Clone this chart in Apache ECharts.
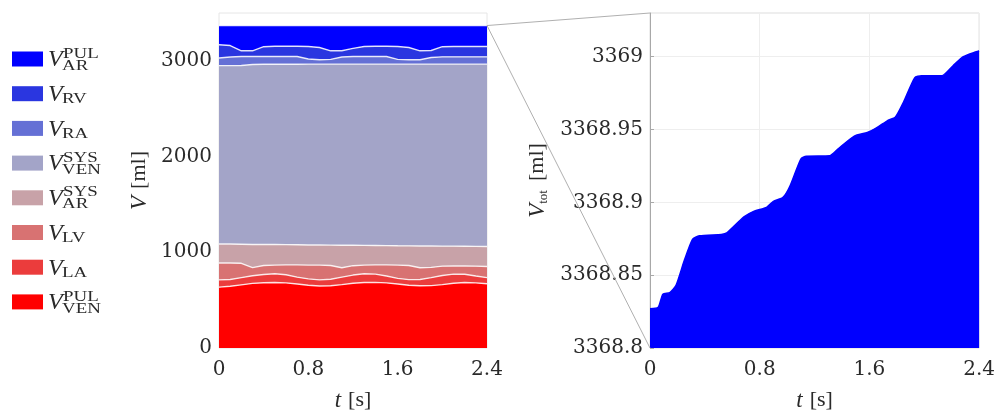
<!DOCTYPE html>
<html>
<head>
<meta charset="utf-8">
<title>Compartment volumes</title>
<script src="https://cdn.jsdelivr.net/npm/echarts@6/dist/echarts.min.js"></script>
<style>
  html, body { margin: 0; padding: 0; background: #ffffff; }
  #chart { width: 998px; height: 417px; }
</style>
</head>
<body>
<div id="chart"></div>
<script>
// ---- time base of the stacked compartment volumes [s] ----
const timeS = [0, 0.1, 0.2, 0.3, 0.4, 0.5, 0.6, 0.7, 0.8, 0.9, 1.0, 1.1, 1.2,
               1.3, 1.4, 1.5, 1.6, 1.7, 1.8, 1.9, 2.0, 2.1, 2.2, 2.3, 2.4];

// ---- compartment volumes [ml], bottom of the stack first ----
const vVenPul = [636, 645, 660, 675, 682, 684, 680, 668, 655, 648, 650, 662, 676,
                 685, 686, 680, 668, 656, 650, 652, 662, 676, 684, 680, 672];
const vLA     = [76, 70, 75, 80, 86, 91, 85, 72, 67, 64, 68, 78, 86,
                 91, 86, 72, 60, 58, 66, 83, 96, 96, 86, 72, 63];
const vLV     = [176, 173, 150, 85, 94, 91, 103, 128, 144, 154, 144, 98, 98,
                 90, 96, 116, 138, 148, 122, 107, 97, 84, 86, 103, 117];
const vArSys  = [198, 198, 199, 242, 221, 216, 212, 210, 210, 210, 213, 236, 214,
                 206, 203, 202, 202, 205, 228, 223, 209, 208, 207, 207, 208];
const vVenSys = [1864, 1864, 1868, 1880, 1882, 1883, 1885, 1887, 1890, 1890, 1891, 1892, 1892,
                 1894, 1895, 1896, 1898, 1899, 1900, 1901, 1902, 1902, 1903, 1904, 1906];
const vRA     = [80, 90, 93, 83, 80, 80, 80, 80, 54, 46, 49, 74, 79,
                 79, 79, 79, 49, 46, 46, 69, 76, 76, 76, 76, 76];
const vRV     = [138, 120, 60, 60, 103, 107, 107, 107, 130, 128, 90, 65, 85,
                 105, 107, 107, 135, 128, 93, 73, 106, 108, 108, 108, 108];
const vArPul  = [201, 209, 264, 264, 221, 217, 217, 217, 219, 229, 264, 264, 239,
                 219, 217, 217, 219, 229, 264, 261, 221, 219, 219, 219, 219];

// ---- total circulating volume [s, ml] ----
const totalTime   = [0, 0.06, 0.094, 0.144, 0.19, 0.25, 0.31, 0.36, 0.52, 0.56, 0.685,
                     0.76, 0.85, 0.90, 0.97, 1.02, 1.10, 1.14, 1.31, 1.37, 1.49, 1.585,
                     1.66, 1.73, 1.79, 1.85, 1.93, 1.98, 2.13, 2.21, 2.285, 2.38, 2.4];
const totalVolume = [3368.827, 3368.828, 3368.837, 3368.838, 3368.843, 3368.860, 3368.8745,
                     3368.877, 3368.878, 3368.879, 3368.890, 3368.894, 3368.8966, 3368.9007,
                     3368.9034, 3368.911, 3368.9297, 3368.9317, 3368.932, 3368.9366, 3368.9455,
                     3368.948, 3368.9517, 3368.956, 3368.9586, 3368.969, 3368.9855, 3368.987,
                     3368.987, 3368.9938, 3369.000, 3369.0034, 3369.004];

// ---- axis ticks ----
const timeTicks      = [0, 0.8, 1.6, 2.4];
const volumeTicks    = [0, 1000, 2000, 3000];
const totalTicks     = [3368.8, 3368.85, 3368.9, 3368.95, 3369];
const volumeAxisMax  = 3500;
const totalAxisMax   = 3369.03;

// ---- compartments: label parts and colours ----
const compNames = ['VEN_PUL', 'LA', 'LV', 'AR_SYS', 'VEN_SYS', 'RA', 'RV', 'AR_PUL'];
const compSub   = ['VEN', 'LA', 'LV', 'AR', 'VEN', 'RA', 'RV', 'AR'];
const compSup   = ['PUL', '', '', 'SYS', 'SYS', '', '', 'PUL'];
const compData  = [vVenPul, vLA, vLV, vArSys, vVenSys, vRA, vRV, vArPul];
const compColor = ['#ff0000', '#eb3c3c', '#d87272', '#c8a2a8',
                   '#a3a4c8', '#6570d5', '#2a36e0', '#0000ff'];

const TICK_FONT = "'DejaVu Serif', 'Liberation Serif', serif";
const MATH_FONT = "'Liberation Serif', 'DejaVu Serif', serif";
const TEXT_COLOR = '#2a2a2a';
const TICK_SIZE = 20;

const timeStep = timeS[1] - timeS[0];
const tickEvery = Math.round((timeTicks[1] - timeTicks[0]) / timeStep) - 1;
const fmtNum = v => String(+(+v).toFixed(2));

const nameRich = {
  v:  { fontFamily: MATH_FONT, fontStyle: 'italic', fontSize: 23, color: TEXT_COLOR },
  s:  { fontFamily: MATH_FONT, fontSize: 13, color: TEXT_COLOR, padding: [12, 2, 0, 0] },
  g:  { fontSize: 8, width: 7 },
  u:  { fontFamily: MATH_FONT, fontSize: 22, color: TEXT_COLOR }
};

const stackSeries = compNames.map((name, j) => ({
  type: 'line',
  name: name,
  xAxisIndex: 0,
  yAxisIndex: 0,
  stack: 'volume',
  data: compData[j],
  symbol: 'none',
  smooth: false,
  z: 20 - j,
  lineStyle: { color: 'rgba(255,255,255,0.85)', width: 1.4 },
  itemStyle: { color: compColor[j] },
  areaStyle: { color: compColor[j], opacity: 1 }
}));

const option = {
  animation: false,
  backgroundColor: '#ffffff',
  grid: [
    { left: 219, right: 511, top: 13, bottom: 69, show: true,
      borderColor: '#e6e6e6', borderWidth: 1, backgroundColor: 'transparent' },
    { left: 650, right: 15, top: 13, bottom: 69, show: true,
      borderColor: '#dcdcdc', borderWidth: 1, backgroundColor: 'transparent' }
  ],
  xAxis: [
    {
      gridIndex: 0, type: 'category', boundaryGap: false,
      data: timeS.map(fmtNum),
      axisLine: { show: false }, axisTick: { show: false },
      splitLine: { show: false },
      axisLabel: {
        interval: tickEvery, fontFamily: TICK_FONT, fontSize: TICK_SIZE,
        color: TEXT_COLOR, margin: 12,
        formatter: v => (timeTicks.indexOf(+v) >= 0 ? v : '')
      },
      name: '{v|t}{g| }{u|[s]}', nameLocation: 'middle', nameGap: 41,
      nameTextStyle: { rich: nameRich }
    },
    {
      gridIndex: 1, type: 'value',
      min: timeTicks[0], max: timeTicks[timeTicks.length - 1],
      interval: timeTicks[1] - timeTicks[0],
      axisLine: { show: false }, axisTick: { show: false },
      splitLine: { show: true, lineStyle: { color: '#eeeeee', width: 1 } },
      axisLabel: { fontFamily: TICK_FONT, fontSize: TICK_SIZE, color: TEXT_COLOR,
                   margin: 12, formatter: fmtNum },
      name: '{v|t}{g| }{u|[s]}', nameLocation: 'middle', nameGap: 41,
      nameTextStyle: { rich: nameRich }
    }
  ],
  yAxis: [
    {
      gridIndex: 0, type: 'value',
      min: volumeTicks[0], max: volumeAxisMax,
      interval: volumeTicks[1] - volumeTicks[0],
      axisLine: { show: false }, axisTick: { show: false },
      splitLine: { show: false },
      axisLabel: { fontFamily: TICK_FONT, fontSize: TICK_SIZE, color: TEXT_COLOR, margin: 7,
                   showMaxLabel: false,
                   formatter: v => (volumeTicks.indexOf(+v) >= 0 ? String(v) : '') },
      name: '{v|V}{g| }{u|[ml]}', nameLocation: 'middle', nameGap: 68,
      nameTextStyle: { rich: nameRich }
    },
    {
      gridIndex: 1, type: 'value',
      min: totalTicks[0], max: totalAxisMax,
      interval: 0.05,
      axisLine: { show: true, lineStyle: { color: '#a8a8a8', width: 1 } },
      axisTick: { show: true, inside: true, length: 4, lineStyle: { color: '#a8a8a8' } },
      splitLine: { show: true, lineStyle: { color: '#eeeeee', width: 1 } },
      axisLabel: {
        fontFamily: TICK_FONT, fontSize: TICK_SIZE, color: TEXT_COLOR, margin: 7,
        showMaxLabel: false,
        formatter: v => {
          const s = fmtNum(v);
          return totalTicks.some(t => Math.abs(t - v) < 1e-6) ? s : '';
        }
      },
      name: '{v|V}{s|tot}{g| }{u|[ml]}', nameLocation: 'middle', nameGap: 100,
      nameTextStyle: { rich: nameRich }
    }
  ],
  series: stackSeries.concat([{
    type: 'line',
    name: 'V_tot',
    xAxisIndex: 1,
    yAxisIndex: 1,
    data: totalTime.map((t, i) => [t, totalVolume[i]]),
    symbol: 'none',
    smooth: 0.2,
    z: 5,
    lineStyle: { color: '#0000ff', width: 1.5 },
    itemStyle: { color: '#0000ff' },
    areaStyle: { color: '#0000ff', opacity: 1, origin: 'start' }
  }])
};

const chart = echarts.init(document.getElementById('chart'), null, { renderer: 'canvas' });
chart.setOption(option);

// ---- legend: colour box, italic V with stacked super/subscript ----
const graphics = [];
const legendTop = 59, legendStep = 34.7;
for (let k = 0; k < compNames.length; k++) {
  const j = compNames.length - 1 - k;            // top of the stack first
  const cy = legendTop + k * legendStep;
  graphics.push({
    type: 'rect', silent: true,
    shape: { x: 12, y: cy - 7.5, width: 31, height: 15 },
    style: { fill: compColor[j] }
  });
  graphics.push({
    type: 'text', silent: true, x: 48, y: cy + 1,
    style: { text: 'V', fontFamily: MATH_FONT, fontStyle: 'italic', fontSize: 24,
             fill: TEXT_COLOR, verticalAlign: 'middle', align: 'left' }
  });
  if (compSup[j]) {
    graphics.push({
      type: 'text', silent: true, x: 63, y: cy - 5, scaleX: 1.35,
      style: { text: compSup[j], fontFamily: MATH_FONT, fontSize: 14,
               fill: TEXT_COLOR, verticalAlign: 'middle', align: 'left' }
    });
  }
  graphics.push({
    type: 'text', silent: true, x: 62, y: cy + (compSup[j] ? 7 : 6), scaleX: 1.35,
    style: { text: compSub[j], fontFamily: MATH_FONT, fontSize: 14,
             fill: TEXT_COLOR, verticalAlign: 'middle', align: 'left' }
  });
}

// ---- lines joining the total-volume band of the stack to the magnified view ----
const lastIdx = timeS.length - 1;
const pTop  = chart.convertToPixel({ xAxisIndex: 0, yAxisIndex: 0 }, [lastIdx, totalAxisMax]);
const pBot  = chart.convertToPixel({ xAxisIndex: 0, yAxisIndex: 0 }, [lastIdx, totalTicks[0]]);
const qTop  = chart.convertToPixel({ xAxisIndex: 1, yAxisIndex: 1 }, [timeTicks[0], totalAxisMax]);
const qBot  = chart.convertToPixel({ xAxisIndex: 1, yAxisIndex: 1 }, [timeTicks[0], totalTicks[0]]);
[[pTop, qTop], [pBot, qBot]].forEach(([p, q]) => {
  graphics.push({
    type: 'line', silent: true, z: 50,
    shape: { x1: p[0], y1: p[1], x2: q[0], y2: q[1] },
    style: { stroke: '#b0b0b0', lineWidth: 1 }
  });
});

chart.setOption({ graphic: { elements: graphics } });
</script>
</body>
</html>
